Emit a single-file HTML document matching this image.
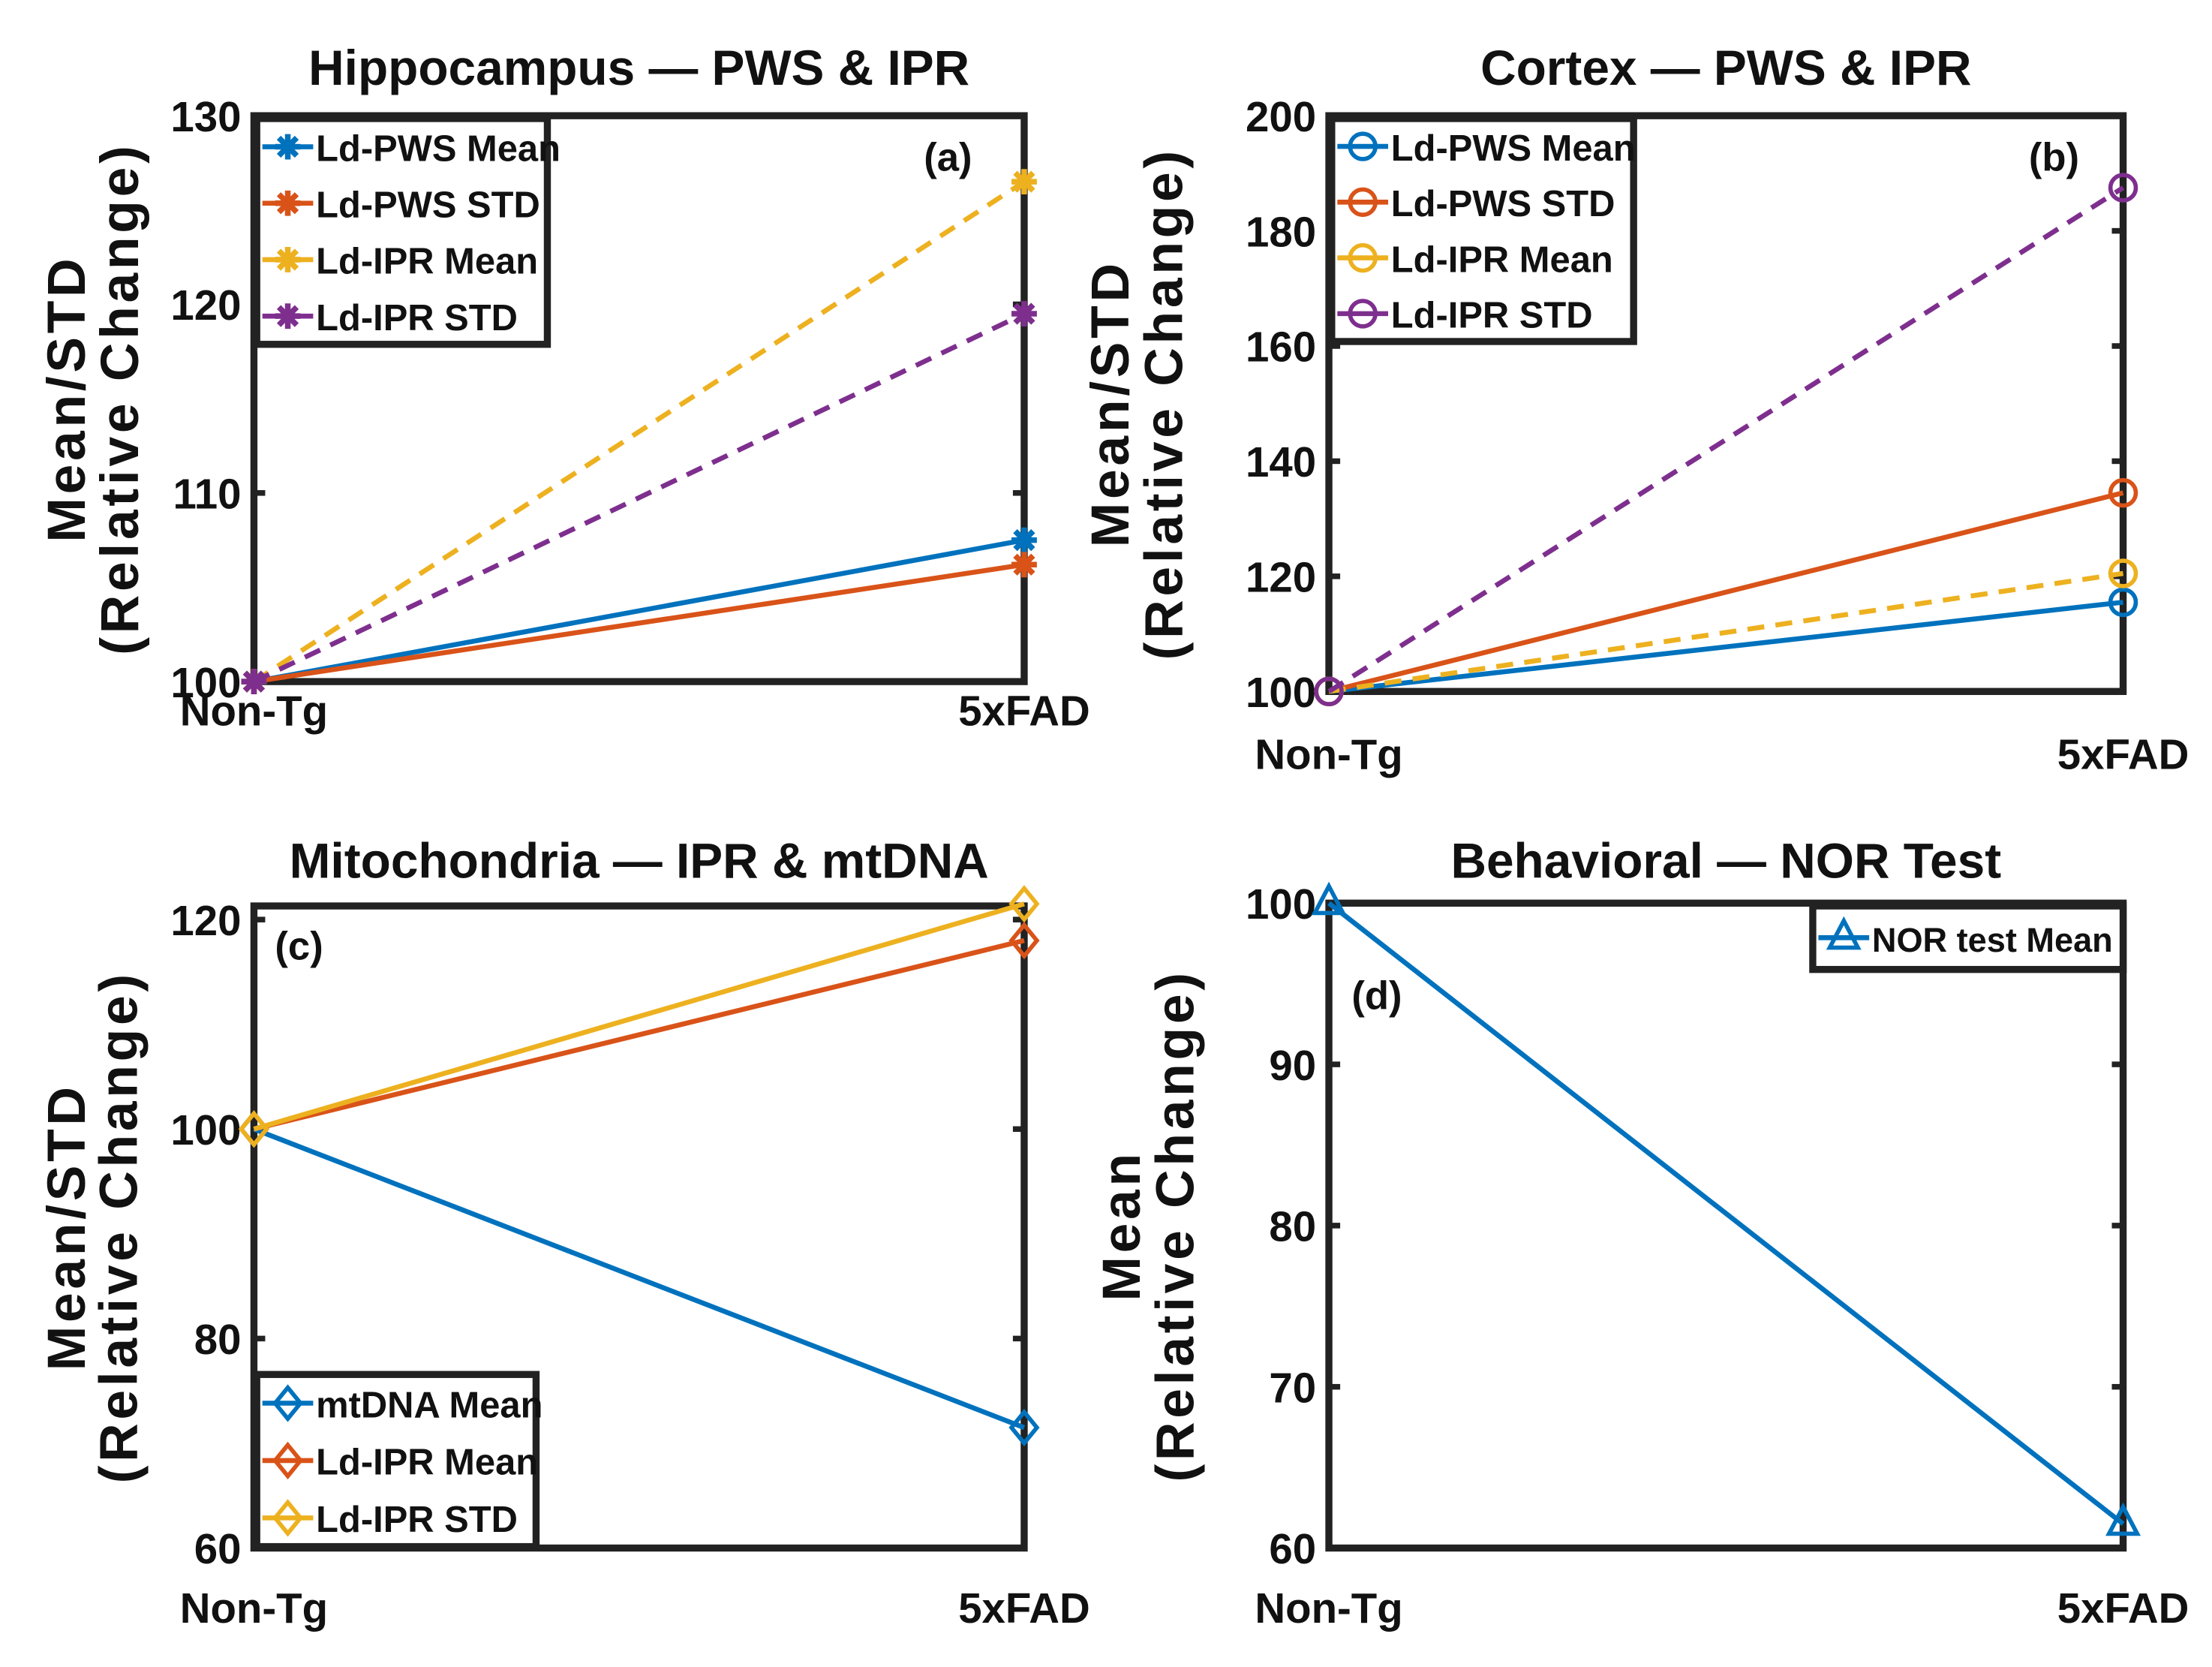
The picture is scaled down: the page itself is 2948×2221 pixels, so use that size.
<!DOCTYPE html>
<html><head><meta charset="utf-8"><style>
html,body{margin:0;padding:0;background:#fff}
svg{display:block}
text{font-family:"Liberation Sans",Arial,sans-serif;font-weight:bold;fill:#111}
</style></head><body>
<svg id="fig" width="2948" height="2221" viewBox="0 0 1568 1181.3" preserveAspectRatio="none" xmlns="http://www.w3.org/2000/svg"></svg>
<script>
const categories = ["Non-Tg","5xFAD"];
// Panel a
const aNames = ["Ld-PWS Mean","Ld-PWS STD","Ld-IPR Mean","Ld-IPR STD"];
const aPwsMean = [100,107.5];
const aPwsStd = [100,106.2];
const aIprMean = [100,126.5];
const aIprStd = [100,119.5];
const aTicks = [100,110,120,130];
// Panel b
const bNames = ["Ld-PWS Mean","Ld-PWS STD","Ld-IPR Mean","Ld-IPR STD"];
const bPwsMean = [100,115.5];
const bPwsStd = [100,134.5];
const bIprMean = [100,120.5];
const bIprStd = [100,187.5];
const bTicks = [100,120,140,160,180,200];
// Panel c
const cNames = ["mtDNA Mean","Ld-IPR Mean","Ld-IPR STD"];
const cMtdna = [100,71.5];
const cIprMean = [100,118];
const cIprStd = [100,121.5];
const cTicks = [60,80,100,120];
// Panel d
const dNames = ["NOR test Mean"];
const dNor = [100,61.5];
const dTicks = [60,70,80,90,100];

const C = {blue:"#0072BD",orange:"#D95319",yellow:"#EDB120",purple:"#7E2F8E"};
const svg = document.getElementById('fig');
const NS = "http://www.w3.org/2000/svg";
function el(tag, attrs, parent){const e=document.createElementNS(NS,tag);for(const k in attrs)e.setAttribute(k,attrs[k]);(parent||svg).appendChild(e);return e;}

function marker(g,type,x,y,color){
  let m;
  if(type==='star'){
    m=el('g',{},g);
    for(let a=0;a<180;a+=45){const r=a*Math.PI/180,d=9;
      el('line',{x1:x-d*Math.cos(r),y1:y-d*Math.sin(r),x2:x+d*Math.cos(r),y2:y+d*Math.sin(r),stroke:color,'stroke-width':4},m);}
    el('circle',{cx:x,cy:y,r:5,fill:color},m);
  } else if(type==='circle'){
    m=el('circle',{cx:x,cy:y,r:9,fill:'none',stroke:color,'stroke-width':3},g);
  } else if(type==='diamond'){
    m=el('polygon',{points:`${x},${y-11} ${x+9},${y} ${x},${y+11} ${x-9},${y}`,fill:'none',stroke:color,'stroke-width':3},g);
  } else {
    m=el('polygon',{points:`${x},${y-12} ${x+10},${y+7} ${x-10},${y+7}`,fill:'none',stroke:color,'stroke-width':3},g);
  }
  
  
}

function panel(p){
  const g=el('g',{});
  
  
  const sx=i=>p.L+(p.R-p.L)*i;
  const sy=v=>p.B-(v-p.ymin)/(p.ymax-p.ymin)*(p.B-p.T);
  const t=el('text',{x:(p.L+p.R)/2,y:p.titleY,'text-anchor':'middle','font-size':35},g);
  t.textContent=p.title;
  
  
  p.ticks.forEach(v=>{
    const y=sy(v);
    const tl=el('text',{x:p.L-9,y:y+11,'text-anchor':'end','font-size':30},g);
    tl.textContent=v;
    
    
    el('line',{x1:p.L,y1:y,x2:p.L+8,y2:y,stroke:'#222','stroke-width':4},g);
    el('line',{x1:p.R,y1:y,x2:p.R-8,y2:y,stroke:'#222','stroke-width':4},g);
  });
  categories.forEach((c,i)=>{
    const xl=el('text',{x:sx(i),y:p.xlabY,'text-anchor':'middle','font-size':30},g);
    xl.textContent=c;
    
    
  });
  const cy=(p.T+p.B)/2;
  p.ylab.forEach((s,i)=>{
    const yl=el('text',{x:p.ylabX[i],y:cy,'text-anchor':'middle','font-size':38,'letter-spacing':2.5,transform:`rotate(-90 ${p.ylabX[i]} ${cy})`},g);
    yl.textContent=s;
    
    
  });
  const fr=el('rect',{x:p.L,y:p.T,width:p.R-p.L,height:p.B-p.T,fill:'none',stroke:'#222','stroke-width':5},g);
  
  
  p.series.forEach(s=>{
    const pts=s.vals.map((v,i)=>sx(i)+','+sy(v)).join(' ');
    const ln=el('polyline',{points:pts,fill:'none',stroke:s.color,'stroke-width':3.5,'stroke-dasharray':s.dash?'12 8':'none'},g);
    
    
    s.vals.forEach((v,i)=>marker(g,p.mk,sx(i),sy(v),s.color));
  });
  const pl=el('text',{x:p.letter[0],y:p.letter[1],'text-anchor':'middle','font-size':28},g);
  pl.textContent='('+p.id+')';
  
  
  const lg=el('g',{},g);
  
  
  const [lx,ly,lw,lh]=p.leg;
  el('rect',{x:lx,y:ly,width:lw,height:lh,fill:'#fff',stroke:'#222','stroke-width':5},lg);
  const step=lh/p.series.length;
  p.series.forEach((s,i)=>{
    const y=ly+step*(i+0.5);
    const e=el('g',{},lg);
    
    
    el('line',{x1:lx+4,y1:y,x2:lx+40,y2:y,stroke:s.color,'stroke-width':3.5},e);
    marker(e,p.mk,lx+22,y,s.color);
    const tx=el('text',{x:lx+42,y:y+10,'font-size':p.legFs||26},e);
    tx.textContent=s.name;
  });
}

panel({id:'a',title:'Hippocampus — PWS & IPR',titleY:60,L:180,R:726,T:82,B:483,ymin:100,ymax:130,ticks:aTicks,
  xlabY:514,ylab:['Mean/STD','(Relative Change)'],ylabX:[60,98],mk:'star',letter:[672,121],leg:[182,84,206,160],
  series:[{name:aNames[0],vals:aPwsMean,color:C.blue},{name:aNames[1],vals:aPwsStd,color:C.orange},
          {name:aNames[2],vals:aIprMean,color:C.yellow,dash:1},{name:aNames[3],vals:aIprStd,color:C.purple,dash:1}]});
panel({id:'b',title:'Cortex — PWS & IPR',titleY:60,L:942,R:1505,T:82,B:490,ymin:100,ymax:200,ticks:bTicks,
  xlabY:545,ylab:['Mean/STD','(Relative Change)'],ylabX:[800,838],mk:'circle',letter:[1456,121],leg:[944,84,214,158],
  series:[{name:bNames[0],vals:bPwsMean,color:C.blue},{name:bNames[1],vals:bPwsStd,color:C.orange},
          {name:bNames[2],vals:bIprMean,color:C.yellow,dash:1},{name:bNames[3],vals:bIprStd,color:C.purple,dash:1}]});
panel({id:'c',title:'Mitochondria — IPR & mtDNA',titleY:622,L:180,R:726,T:642,B:1097,ymin:60,ymax:121.3,ticks:cTicks,
  xlabY:1150,ylab:['Mean/STD','(Relative Change)'],ylabX:[60,97],mk:'diamond',letter:[212,680],leg:[182,974,198,122],
  series:[{name:cNames[0],vals:cMtdna,color:C.blue},{name:cNames[1],vals:cIprMean,color:C.orange},{name:cNames[2],vals:cIprStd,color:C.yellow}]});
panel({id:'d',title:'Behavioral — NOR Test',titleY:622,L:942,R:1505,T:640,B:1097,ymin:60,ymax:100,ticks:dTicks,
  xlabY:1150,ylab:['Mean','(Relative Change)'],ylabX:[808,846],mk:'tri',letter:[976,715],leg:[1285,642,220,45],legFs:24,
  series:[{name:dNames[0],vals:dNor,color:C.blue}]});
</script>
</body></html>
